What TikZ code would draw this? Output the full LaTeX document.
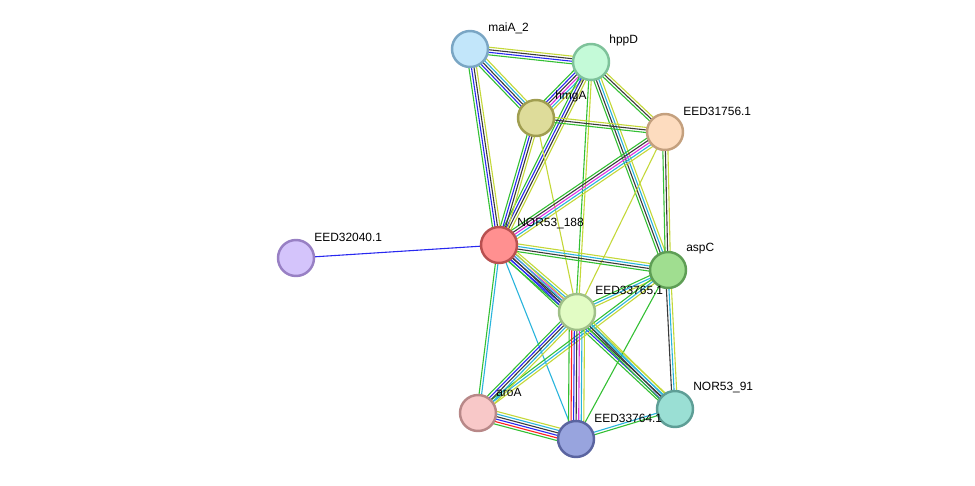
\documentclass[tikz,border=0pt]{standalone}
\usepackage{fontspec}
\setsansfont{Liberation Sans}
\usepackage{xcolor}
\usetikzlibrary{calc}
\pgfdeclarelayer{bg}
\pgfsetlayers{bg,main}
% evidence colours
\definecolor{nbhd}{HTML}{33C033}
\definecolor{fusion}{HTML}{FF2020}
\definecolor{cooc}{HTML}{2828F0}
\definecolor{coexp}{HTML}{3A3A3A}
\definecolor{exper}{HTML}{E030E0}
\definecolor{dbase}{HTML}{28B4DC}
\definecolor{txtm}{HTML}{C4D838}
% one line per evidence channel, side by side
\newcommand{\ppiedge}[3]{%
  \begin{pgfonlayer}{bg}
  \foreach \c [count=\i] in {#3} {\xdef\nlines{\i}}%
  \foreach \c [count=\i] in {#3} {%
    \pgfmathsetmacro{\off}{(\i-(\nlines+1)/2)*1.45}%
    \draw[edge,draw=\c] ($(#1)!\off pt!90:(#2)$) -- ($(#2)!\off pt!-90:(#1)$);
  }%
  \end{pgfonlayer}}

\begin{document}
\begin{tikzpicture}[
  x=0.2mm, y=-0.2mm,
  prot/.style = {circle, draw, line width=1.4pt, minimum size=7.2mm, inner sep=0pt},
  lbl/.style = {anchor=west, inner sep=0pt, font=\sffamily\fontsize{6.8}{8}\selectfont},
  edge/.style = {line width=0.62pt},
]
\begin{pgfonlayer}{bg}
\fill[white] (0,0) rectangle (975,485);
\end{pgfonlayer}
\useasboundingbox (0,0) rectangle (975,485);
\node[prot, fill={rgb,255:red,194;green,230;blue,250}, draw={rgb,255:red,122;green,166;blue,196}] (maiA) at (470,49) {};
\node[prot, fill={rgb,255:red,196;green,250;blue,216}, draw={rgb,255:red,126;green,194;blue,154}] (hppD) at (591,62) {};
\node[prot, fill={rgb,255:red,222;green,220;blue,154}, draw={rgb,255:red,160;green,158;blue,80}] (hmgA) at (536,118) {};
\node[prot, fill={rgb,255:red,253;green,220;blue,191}, draw={rgb,255:red,196;green,160;blue,126}] (e31756) at (665,132) {};
\node[prot, fill={rgb,255:red,255;green,144;blue,144}, draw={rgb,255:red,184;green,80;blue,80}] (n188) at (499,245) {};
\node[prot, fill={rgb,255:red,212;green,196;blue,251}, draw={rgb,255:red,152;green,128;blue,196}] (e32040) at (296,258) {};
\node[prot, fill={rgb,255:red,160;green,222;blue,144}, draw={rgb,255:red,94;green,158;blue,85}] (aspC) at (668,270) {};
\node[prot, fill={rgb,255:red,226;green,252;blue,196}, draw={rgb,255:red,160;green,192;blue,136}] (e33765) at (577,312) {};
\node[prot, fill={rgb,255:red,248;green,200;blue,200}, draw={rgb,255:red,184;green,136;blue,136}] (aroA) at (478,413) {};
\node[prot, fill={rgb,255:red,152;green,164;blue,222}, draw={rgb,255:red,90;green,100;blue,160}] (e33764) at (576,439) {};
\node[prot, fill={rgb,255:red,154;green,223;blue,212}, draw={rgb,255:red,94;green,158;blue,150}] (n91) at (675,409) {};
% labels
\node[lbl] (maiA-l) at ($(maiA)+(18,-21)$) {maiA\_2};
\node[lbl] (hppD-l) at ($(hppD)+(18,-22)$) {hppD};
\node[lbl] (hmgA-l) at ($(hmgA)+(19,-22)$) {hmgA};
\node[lbl] (e31756-l) at ($(e31756)+(18,-21)$) {EED31756.1};
\node[lbl] (n188-l) at ($(n188)+(18,-21)$) {NOR53\_188};
\node[lbl] (e32040-l) at ($(e32040)+(18,-21)$) {EED32040.1};
\node[lbl] (aspC-l) at ($(aspC)+(18,-21)$) {aspC};
\node[lbl] (e33765-l) at ($(e33765)+(18,-22)$) {EED33765.1};
\node[lbl] (aroA-l) at ($(aroA)+(18,-21)$) {aroA};
\node[lbl] (e33764-l) at ($(e33764)+(18,-21)$) {EED33764.1};
\node[lbl] (n91-l) at ($(n91)+(18,-21)$) {NOR53\_91};
% edges
\ppiedge{maiA}{hppD}{nbhd,cooc,coexp,txtm}
\ppiedge{maiA}{hmgA}{nbhd,cooc,coexp,dbase,txtm}
\ppiedge{maiA}{n188}{nbhd,cooc,coexp,txtm}
\ppiedge{hppD}{hmgA}{nbhd,cooc,coexp,exper,dbase,txtm}
\ppiedge{hppD}{e31756}{nbhd,coexp,txtm}
\ppiedge{hppD}{n188}{nbhd,cooc,coexp,txtm}
\ppiedge{hppD}{aspC}{nbhd,coexp,dbase,txtm}
\ppiedge{hppD}{e33765}{nbhd,txtm}
\ppiedge{hmgA}{e31756}{nbhd,coexp,txtm}
\ppiedge{hmgA}{n188}{nbhd,cooc,coexp,txtm}
\ppiedge{hmgA}{e33765}{txtm}
\ppiedge{e31756}{n188}{nbhd,coexp,exper,dbase,txtm}
\ppiedge{e31756}{aspC}{nbhd,coexp,txtm}
\ppiedge{e31756}{e33765}{txtm}
\ppiedge{n188}{e32040}{cooc}
\ppiedge{n188}{aspC}{nbhd,coexp,dbase,txtm}
\ppiedge{n188}{e33765}{nbhd,cooc,coexp,exper,dbase,txtm}
\ppiedge{n188}{n91}{nbhd,cooc,coexp,dbase,txtm}
\ppiedge{n188}{aroA}{nbhd,dbase}
\ppiedge{n188}{e33764}{dbase}
\ppiedge{aspC}{e33765}{nbhd,dbase,txtm}
\ppiedge{aspC}{n91}{coexp,dbase,txtm}
\ppiedge{aspC}{aroA}{nbhd,dbase,txtm}
\ppiedge{aspC}{e33764}{nbhd}
\ppiedge{e33765}{aroA}{nbhd,cooc,coexp,dbase,txtm}
\ppiedge{e33765}{e33764}{nbhd,fusion,cooc,coexp,exper,dbase,txtm}
\ppiedge{e33765}{n91}{nbhd,coexp,dbase,txtm}
\ppiedge{aroA}{e33764}{nbhd,fusion,cooc,coexp,dbase,txtm}
\ppiedge{e33764}{n91}{nbhd,dbase}
\end{tikzpicture}
\end{document}
